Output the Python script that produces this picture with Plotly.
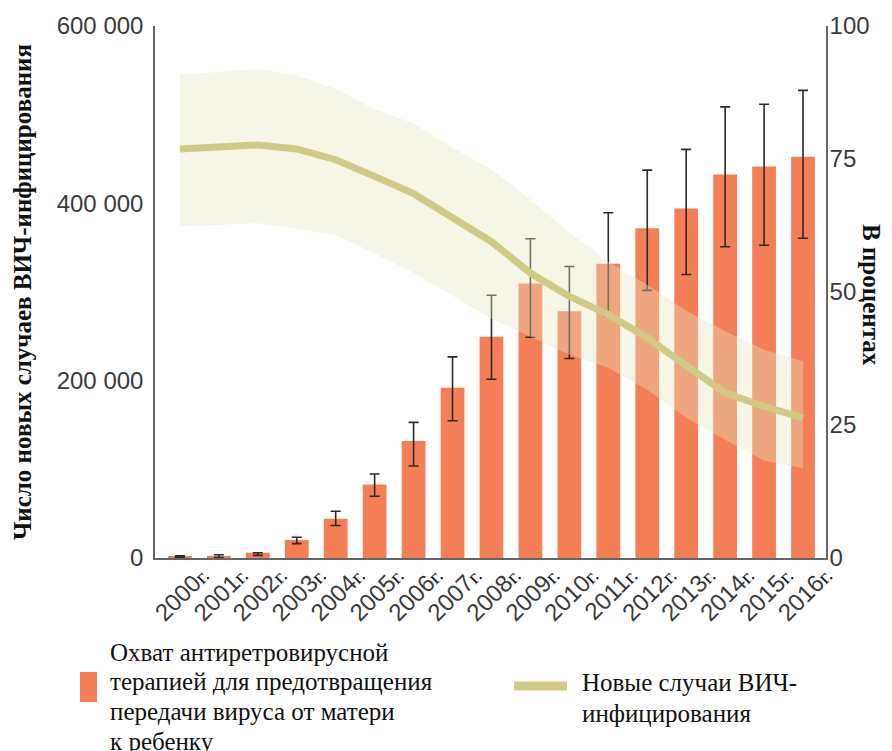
import plotly.graph_objects as go

# ---------------- data ----------------
years = [str(y) for y in range(2000, 2017)]
year_suffix = "г."

# PMTCT ART coverage, % (right axis)
coverage = [0.3, 0.4, 1.0, 3.4, 7.4, 13.8, 22.0, 32.0, 41.6, 51.6, 46.4, 55.3, 62.0, 65.7, 72.1, 73.6, 75.4]
coverage_hi = [0.4, 0.6, 1.0, 3.9, 8.8, 15.8, 25.5, 37.8, 49.4, 60.0, 54.8, 64.9, 72.9, 76.8, 84.8, 85.3, 87.9]
coverage_lo = [0.1, 0.1, 0.5, 2.7, 6.1, 11.6, 17.3, 25.8, 33.6, 41.5, 37.5, 45.5, 50.3, 53.3, 58.5, 58.8, 60.1]

# New HIV infections (left axis)
new_inf = [461300, 463500, 465800, 461300, 449200, 430400, 410900, 383800, 356700,
           321400, 295000, 274400, 248500, 216900, 186400, 171000, 157900]
new_inf_hi = [545100, 548200, 551500, 544100, 528900, 506000, 490000, 462700, 438500,
              404100, 366900, 334200, 308200, 278900, 255600, 234900, 221700]
new_inf_lo = [374000, 375900, 377600, 371400, 364600, 343500, 321800, 295800, 269900,
              249600, 229300, 214600, 189800, 158200, 133400, 109700, 101500]

left_ticks = [0, 200000, 400000, 600000]
left_ticktext = ["0", "200 000", "400 000", "600 000"]
right_ticks = [0, 25, 50, 75, 100]

left_title = "Число новых случаев ВИЧ-инфицирования"
right_title = "В процентах"
legend_bar_lines = ["Охват антиретровирусной", "терапией для предотвращения",
                    "передачи вируса от матери", "к ребенку"]
legend_line_lines = ["Новые случаи ВИЧ-", "инфицирования"]

# ---------------- style ----------------
BAR = "#F47F56"
LINE = "#CFCB84"
BAND = "rgba(228,231,195,0.38)"
SANS = "Liberation Sans, Arial, sans-serif"
SERIF = "Liberation Serif, Times New Roman, serif"
PAGE_W, PAGE_H = 892, 751
OFF = 8  # default body margin of the html page
W, H = PAGE_W - OFF, PAGE_H - OFF
L, R, T, B = 155, 826, 26, 558  # plot area in page pixels


def px(x):
    return (x - L) / (R - L)


def py(y):
    return (B - y) / (B - T)


err_plus = [h - v for h, v in zip(coverage_hi, coverage)]
err_minus = [v - l for v, l in zip(coverage, coverage_lo)]

fig = go.Figure()
fig.add_trace(go.Bar(
    x=years, y=coverage, yaxis="y", marker=dict(color=BAR, line=dict(width=0)),
    error_y=dict(type="data", array=err_plus, arrayminus=err_minus, symmetric=False,
                 color="#2a2a2a", thickness=1.6, width=5),
    showlegend=False, hoverinfo="skip"))
fig.add_trace(go.Scatter(
    x=years, y=new_inf_hi, yaxis="y2", mode="lines", line=dict(width=0, color=BAND),
    showlegend=False, hoverinfo="skip"))
fig.add_trace(go.Scatter(
    x=years, y=new_inf_lo, yaxis="y2", mode="lines", line=dict(width=0, color=BAND),
    fill="tonexty", fillcolor=BAND, showlegend=False, hoverinfo="skip"))
fig.add_trace(go.Scatter(
    x=years, y=new_inf, yaxis="y2", mode="lines", line=dict(width=7, color=LINE),
    showlegend=False, hoverinfo="skip"))

ticktext = [f"{y}<span style='font-family:Liberation Serif;font-size:20px;fill:#111'>{year_suffix}</span>"
            for y in years]

fig.update_layout(
    width=W, height=H,
    margin=dict(l=L - OFF, r=PAGE_W - R, t=T - OFF, b=PAGE_H - B, pad=0, autoexpand=False),
    paper_bgcolor="white", plot_bgcolor="white",
    showlegend=False,
    bargap=0.39,
    xaxis=dict(
        type="category", range=[-0.64, 16.59], tickmode="array", tickvals=years, ticktext=ticktext,
        tickangle=-45, tickfont=dict(family=SANS, size=24, color="#3a3a3a"),
        showline=True, linecolor="#666", linewidth=1.5, ticks="", showgrid=False,
        ticklabelshift=22, ticklabelstandoff=-8, anchor="y", automargin=False),
    yaxis=dict(
        side="right", range=[0, 100], tickvals=right_ticks,
        tickfont=dict(family=SANS, size=24, color="#3a3a3a"),
        showline=True, linecolor="#666", linewidth=1.5, ticks="", showgrid=False,
        zeroline=False, ticklabelstandoff=-3, automargin=False),
    yaxis2=dict(
        side="left", overlaying="y", range=[0, 600000], tickvals=left_ticks, ticktext=left_ticktext,
        tickfont=dict(family=SANS, size=24, color="#3a3a3a"),
        showline=True, linecolor="#666", linewidth=1.5, ticks="", showgrid=False,
        zeroline=False, ticklabelstandoff=5, automargin=False),
)

annotations = [
    dict(text=f"<b>{left_title}</b>", x=px(22), y=py(292), xref="paper", yref="paper",
         textangle=-90, showarrow=False, font=dict(family=SERIF, size=25, color="#111"),
         xanchor="center", yanchor="middle"),
    dict(text=f"<b>{right_title}</b>", x=px(872), y=py(295), xref="paper", yref="paper",
         textangle=90, showarrow=False, font=dict(family=SERIF, size=25, color="#111"),
         xanchor="center", yanchor="middle"),
]
for i, line in enumerate(legend_bar_lines):
    annotations.append(dict(text=line, x=px(108), y=py(652 + 29.7 * i), xref="paper", yref="paper",
                            align="left", showarrow=False, font=dict(family=SERIF, size=25, color="#111"),
                            xanchor="left", yanchor="middle"))
for i, line in enumerate(legend_line_lines):
    annotations.append(dict(text=line, x=px(580), y=py(683 + 30 * i), xref="paper", yref="paper",
                            align="left", showarrow=False, font=dict(family=SERIF, size=25, color="#111"),
                            xanchor="left", yanchor="middle"))
fig.update_layout(annotations=annotations)

fig.add_shape(type="rect", xref="paper", yref="paper", x0=px(80), x1=px(97), y0=py(702), y1=py(672),
              fillcolor=BAR, line=dict(width=0))
fig.add_shape(type="line", xref="paper", yref="paper", x0=px(514), x1=px(567), y0=py(686), y1=py(686),
              line=dict(color=LINE, width=9))

fig.write_html("out.html")
